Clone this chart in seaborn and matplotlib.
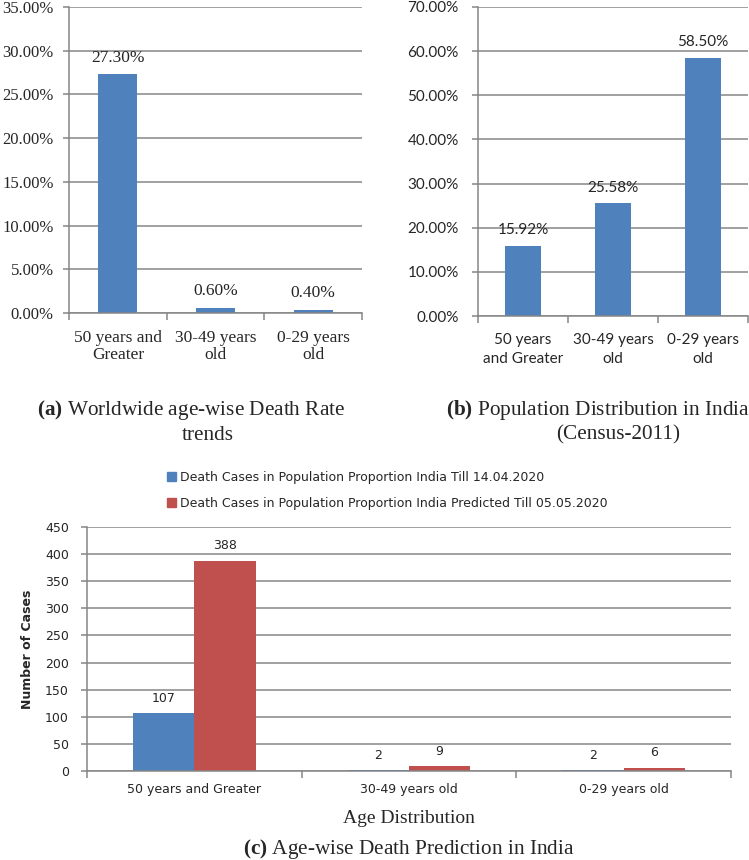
# Three bar panels: worldwide death rate, India population share, predicted deaths.

import seaborn as sns
import matplotlib.pyplot as plt
import pandas as pd
from matplotlib.patches import Patch

# Data
age_groups_a = ['50 years and\nGreater', '30-49 years\nold', '0-29 years\nold']
death_rate = [27.30, 0.60, 0.40]

age_groups_b = ['50 years\nand Greater', '30-49 years\nold', '0-29 years\nold']
population_share = [15.92, 25.58, 58.50]

age_groups_c = ['50 years and Greater', '30-49 years old', '0-29 years old']
series_names = ['Death Cases in Population Proportion India Till 14.04.2020',
                'Death Cases in Population Proportion India Predicted Till 05.05.2020']
deaths_till_apr14 = [107, 2, 2]
deaths_pred_may05 = [388, 9, 6]

BLUE = '#4F81BD'
RED = '#C0504D'
GRID = '#868686'

sns.set_theme(style='white')
plt.rcParams['mathtext.fontset'] = 'custom'
plt.rcParams['mathtext.rm'] = 'Liberation Serif'
plt.rcParams['mathtext.bf'] = 'Liberation Serif:bold'

SERIF = ['Liberation Serif', 'DejaVu Serif']
CALIBRI = ['Lato', 'DejaVu Sans']
TAHOMA = ['DejaVu Sans']

W, H = 749, 860
fig = plt.figure(figsize=(W / 100, H / 100), dpi=100)


def px_axes(left, top, right, bottom):
    return fig.add_axes([left / W, 1 - bottom / H, (right - left) / W, (bottom - top) / H])


def excel_style(ax, ymax, step, font, size, fmt, ypad):
    ax.set_ylim(0, ymax)
    ax.set_xlim(-0.5, 2.5)
    ax.set_yticks([i * step for i in range(int(round(ymax / step)) + 1)])
    ax.set_yticklabels([fmt(v) for v in ax.get_yticks()], family=font, fontsize=size)
    ax.yaxis.grid(True, color=GRID, linewidth=1.1)
    ax.set_axisbelow(True)
    for s in ['top', 'right']:
        ax.spines[s].set_visible(False)
    for s in ['left', 'bottom']:
        ax.spines[s].set_color(GRID)
        ax.spines[s].set_linewidth(1.1)
    ax.tick_params(axis='y', length=4, color=GRID, width=1.1, pad=ypad, direction='out', left=True)
    ax.set_xticks([-0.5, 0.5, 1.5, 2.5], minor=True)
    ax.tick_params(axis='x', which='minor', length=5, color=GRID, width=1.1, bottom=True)
    ax.set_xlabel('')
    ax.set_ylabel('')


# (a) Worldwide age-wise death rate
ax1 = px_axes(69, 7, 362, 313)
df_a = pd.DataFrame({'Age': age_groups_a, 'Rate': death_rate})
sns.barplot(data=df_a, x='Age', y='Rate', color=BLUE, saturation=1, width=0.4,
            linewidth=0, ax=ax1)
excel_style(ax1, 35, 5, SERIF, 12, lambda v: f'{v:.2f}%', 7)
ax1.set_xticks(range(3))
ax1.set_xticklabels(age_groups_a, family=SERIF, fontsize=12.5, linespacing=1.15)
ax1.tick_params(axis='x', which='major', length=0, pad=12)
ax1.bar_label(ax1.containers[0], fmt='%.2f%%', padding=6, family=SERIF, fontsize=12.5)

# (b) Population distribution in India
ax2 = px_axes(478, 7, 748, 316)
df_b = pd.DataFrame({'Age': age_groups_b, 'Share': population_share})
sns.barplot(data=df_b, x='Age', y='Share', color=BLUE, saturation=1, width=0.41,
            linewidth=0, ax=ax2)
excel_style(ax2, 70, 10, CALIBRI, 11, lambda v: f'{v:.2f}%', 10)
ax2.set_xticks(range(3))
ax2.set_xticklabels(age_groups_b, family=CALIBRI, fontsize=11, linespacing=1.45)
ax2.tick_params(axis='x', which='major', length=0, pad=12)
ax2.bar_label(ax2.containers[0], fmt='%.2f%%', padding=6, family=CALIBRI, fontsize=11)

# (c) Age-wise death prediction
ax3 = px_axes(87, 527, 731, 771)
df_c = pd.DataFrame({
    'Age': age_groups_c * 2,
    'Cases': deaths_till_apr14 + deaths_pred_may05,
    'Series': [series_names[0]] * 3 + [series_names[1]] * 3,
})
sns.barplot(data=df_c, x='Age', y='Cases', hue='Series', palette=[BLUE, RED],
            saturation=1, width=0.57, linewidth=0, ax=ax3, legend=False)
excel_style(ax3, 450, 50, TAHOMA, 9, lambda v: f'{v:.0f}', 9)
ax3.set_xticks(range(3))
ax3.set_xticklabels(age_groups_c, family=TAHOMA, fontsize=9)
ax3.tick_params(axis='x', which='major', length=0, pad=9)
for cont in ax3.containers:
    ax3.bar_label(cont, fmt='%d', padding=6, family=TAHOMA, fontsize=9)
ax3.set_ylabel('Number of Cases', family=TAHOMA, fontsize=9, fontweight='bold', labelpad=8)
ax3.set_xlabel('Age Distribution', family=SERIF, fontsize=14, labelpad=10)

handles = [Patch(color=BLUE), Patch(color=RED)]
fig.legend(handles, series_names, loc='upper left', bbox_to_anchor=(167 / W, 1 - 471 / H),
           frameon=False, prop={'family': TAHOMA, 'size': 9}, handlelength=0.7,
           handleheight=0.7, handletextpad=0.3, labelspacing=1.0, borderpad=0,
           borderaxespad=0)

# Captions
cap = dict(family=SERIF, fontsize=15.3, ha='center', va='center')
fig.text(191 / W, 1 - 410 / H, r'$\bf{(a)}$ Worldwide age-wise Death Rate', **cap)
fig.text(208 / W, 1 - 435 / H, 'trends', **cap)
fig.text(598 / W, 1 - 410 / H, r'$\bf{(b)}$ Population Distribution in India', **cap)
fig.text(618 / W, 1 - 435 / H, '(Census-2011)', **cap)
fig.text(409 / W, 1 - 849 / H, r'$\bf{(c)}$ Age-wise Death Prediction in India', **cap)

fig.savefig('out.png', dpi=100)
